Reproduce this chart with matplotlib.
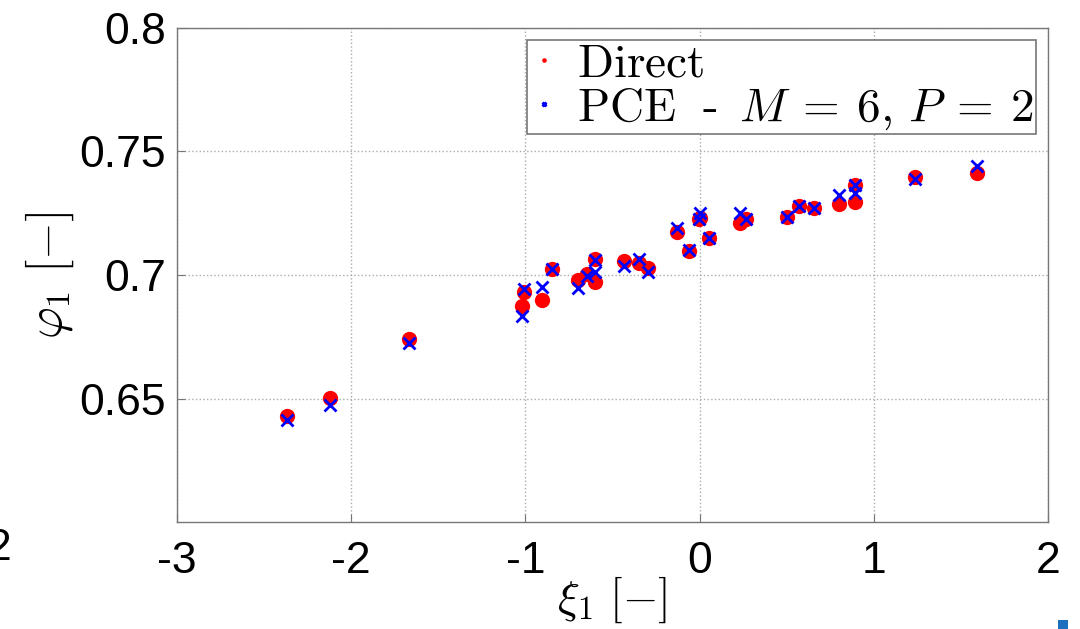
import numpy as np
import matplotlib
matplotlib.use("Agg")
import matplotlib.pyplot as plt
from matplotlib.patches import Rectangle

plt.rcParams['font.family'] = ['Liberation Sans', 'DejaVu Sans']
plt.rcParams['mathtext.fontset'] = 'cm'

#-----------------------------------------------
# samples: xi_1 and phi_1 from the direct model and from the PCE surrogate

xi1 = [-2.369, -2.122, -1.667, -1.021, -1.008, -0.906, -0.849, -0.696, -0.648,
       -0.600, -0.600, -0.432, -0.346, -0.294, -0.131, -0.061, -0.002, 0.000,
       0.056, 0.232, 0.265, 0.504, 0.571, 0.659, 0.800, 0.892, 0.892,
       1.237, 1.594]

phi_direct = [0.6429, 0.6501, 0.6740, 0.6875, 0.6930, 0.6899, 0.7023, 0.6980, 0.7004,
              0.6973, 0.7064, 0.7057, 0.7050, 0.7027, 0.7175, 0.7097, 0.7225, 0.7232,
              0.7149, 0.7209, 0.7227, 0.7234, 0.7279, 0.7270, 0.7286, 0.7297, 0.7364,
              0.7398, 0.7412]

phi_pce = [0.6413, 0.6474, 0.6725, 0.6834, 0.6945, 0.6950, 0.7023, 0.6946, 0.6997,
           0.7012, 0.7060, 0.7036, 0.7064, 0.7011, 0.7190, 0.7101, 0.7225, 0.7250,
           0.7149, 0.7250, 0.7225, 0.7234, 0.7279, 0.7270, 0.7324, 0.7331, 0.7364,
           0.7387, 0.7441]

xticks = [-3, -2, -1, 0, 1, 2]
yticks = [0.65, 0.7, 0.75, 0.8]
ytick_labels = ['0.65', '0.7', '0.75', '0.8']

#-----------------------------------------------

fig = plt.figure(figsize=(10.8, 6.29), dpi=100)
ax = fig.add_axes([0.1639, 0.1701, 0.8065, 0.7854])

ax.plot(xi1, phi_direct, 'o', color=(1, 0, 0), markersize=11, markeredgewidth=0,
        label=r'$\mathrm{Direct}$', zorder=3)
ax.plot(xi1, phi_pce, 'x', color=(0, 0, 1), markersize=8, markeredgewidth=2,
        label=r'$\mathrm{PCE}\ \ \text{-}\ \,M\:=\:6,\,P\:=\:2$', zorder=4)

ax.set_xlim(-3, 2)
ax.set_ylim(0.6, 0.8)
ax.set_xticks(xticks)
ax.set_xticklabels([str(t) for t in xticks])
ax.set_yticks(yticks)
ax.set_yticklabels(ytick_labels)
ax.tick_params(direction='in', length=6, width=0.8, color='#777777', labelsize=32)
ax.tick_params(axis='x', pad=14)
ax.tick_params(axis='y', pad=8)

ax.grid(True, linestyle=':', color='#aaaaaa', linewidth=1)
for s in ax.spines.values():
    s.set_color('#777777')
    s.set_linewidth(1)

ax.set_xlabel(r'$\xi_1\ [-]$', fontsize=33, labelpad=-6)
ax.set_ylabel(r'$\varphi_1\ [-]$', fontsize=35, labelpad=2)

leg = ax.legend(loc='upper right', fontsize=34, markerscale=0.3, handlelength=0.6,
                handletextpad=0.4, borderpad=0.05, labelspacing=0.0,
                fancybox=False, framealpha=1, borderaxespad=0.25)
leg.get_frame().set_edgecolor('#777777')
leg.get_frame().set_linewidth(1.2)

# leftover bits at the page edges
fig.text(-0.012, 0.11, '2', fontsize=32)
fig.patches.append(Rectangle((0.98, 0.0), 0.009, 0.014, transform=fig.transFigure,
                             facecolor='#1f6fbf', edgecolor='none'))

fig.savefig("out.png", dpi=100)
